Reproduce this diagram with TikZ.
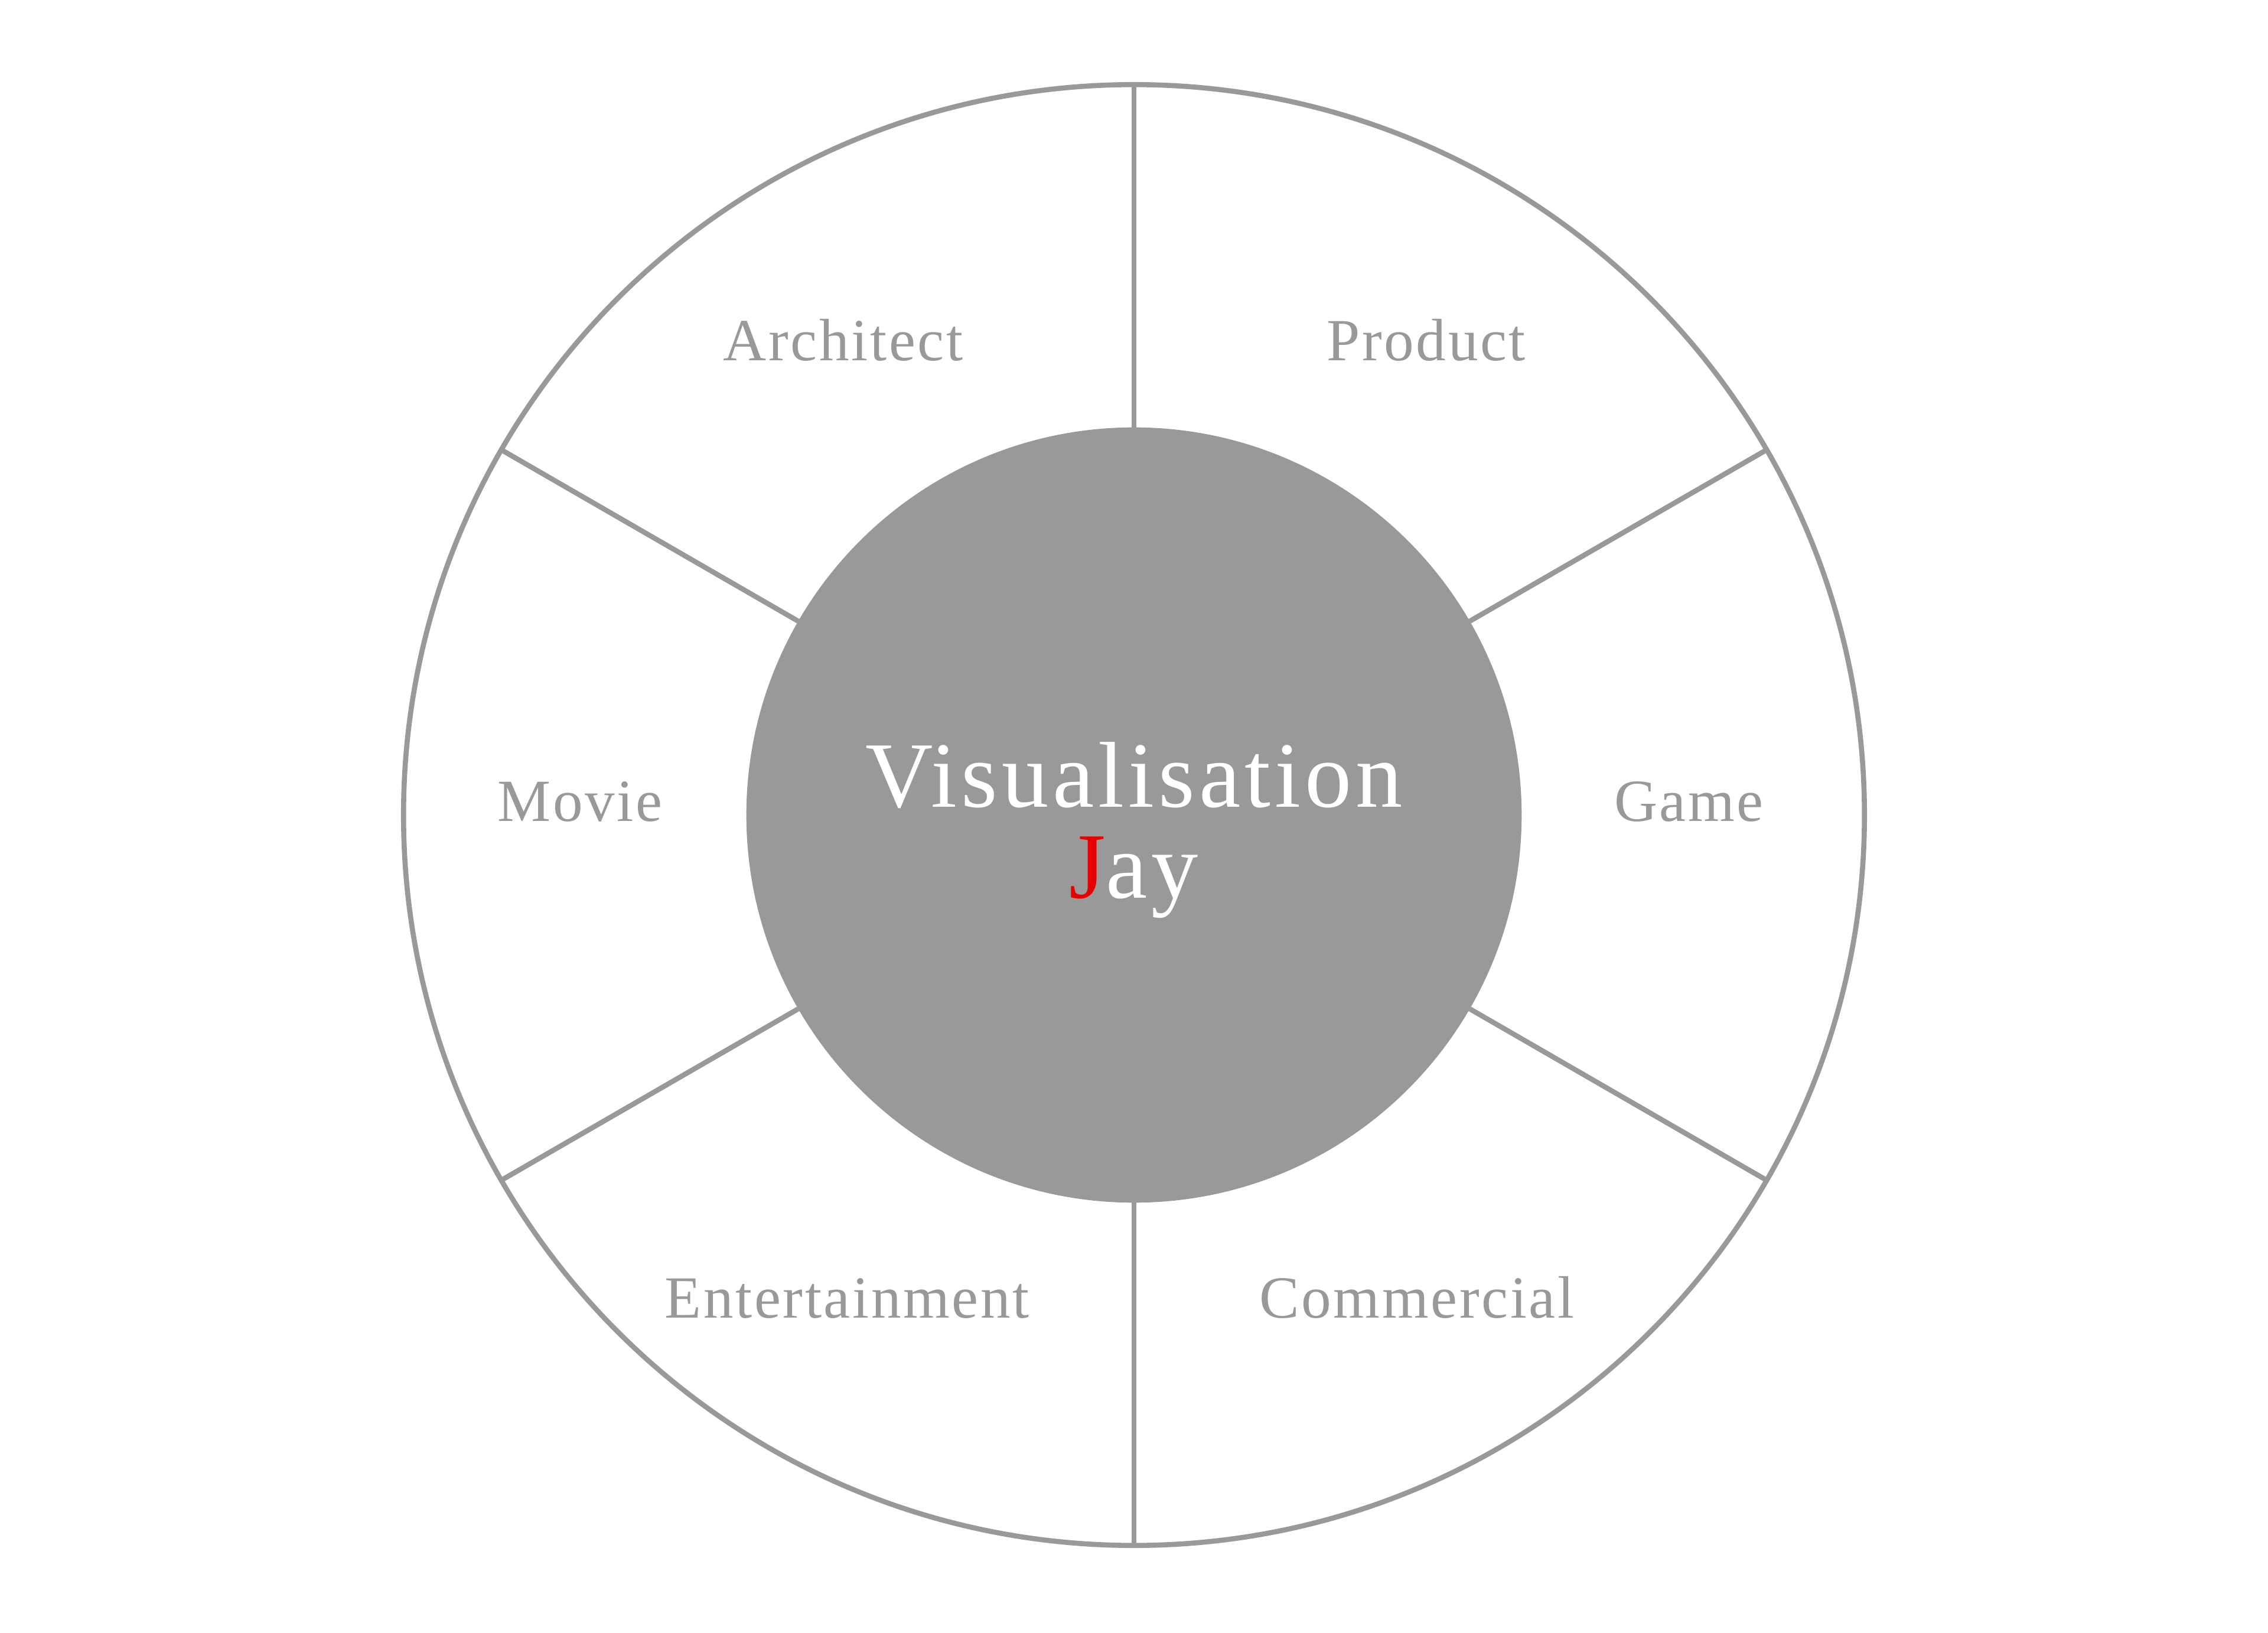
\documentclass[tikz,border=0pt]{standalone}
\usepackage{fontspec}
\setmainfont{Liberation Serif}
\newfontfamily\rimfont[LetterSpace=3.6]{Liberation Serif}
\newfontfamily\hubfont[LetterSpace=4.4]{Liberation Serif}
\definecolor{grisRueda}{HTML}{999999}
\definecolor{rojoJay}{HTML}{E60000}

\begin{document}
\begin{tikzpicture}[line width=2.5pt,
    rim/.style={circle,draw=grisRueda,minimum size=25.25cm,inner sep=0pt,outer sep=0pt},
    hub/.style={circle,fill=grisRueda,minimum size=13.4cm,inner sep=0pt,outer sep=0pt},
    spoke/.style={draw=grisRueda},
    sector/.style={text=grisRueda,anchor=base,font=\rimfont\fontsize{29.4}{30}\selectfont},
    marca/.style={text=white,align=center,inner sep=0pt,font=\hubfont\fontsize{46}{44.8}\selectfont}]
  \useasboundingbox (-19.6,-14.1375) rectangle (19.6,14.0875);
  \node[rim] (rim) at (0,0) {};
  \node[hub] (hub) at (0,0) {};
  \draw[spoke] (hub.90) -- (rim.90);
  \draw[spoke] (hub.30) -- (rim.30);
  \draw[spoke] (hub.-30) -- (rim.-30);
  \draw[spoke] (hub.-90) -- (rim.-90);
  \draw[spoke] (hub.210) -- (rim.210);
  \draw[spoke] (hub.150) -- (rim.150);
  \node[marca] (marca) at ([yshift=-0.26cm]hub.center)
    {Visualisation\\\textcolor{rojoJay}{J}ay};
  \node[sector] (architect) at (-5.025,7.86) {Architect};
  \node[sector] (product) at (5.05,7.86) {Product};
  \node[sector] (movie) at (-9.575,-0.11) {Movie};
  \node[sector] (game) at (9.59,-0.11) {Game};
  \node[sector] (entertainment) at (-4.96,-8.69) {Entertainment};
  \node[sector] (commercial) at (4.89,-8.69) {Commercial};
\end{tikzpicture}
\end{document}
